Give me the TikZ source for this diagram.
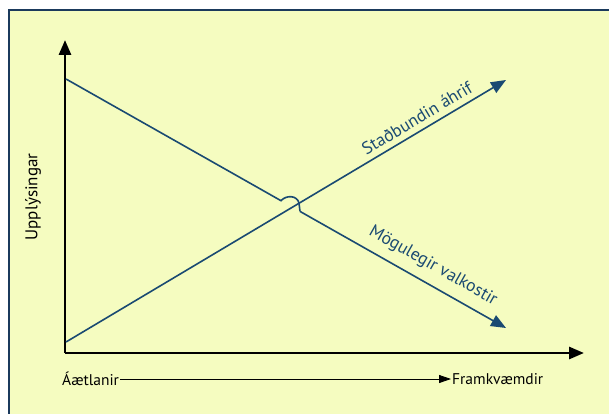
\documentclass[tikz,border=0pt]{standalone}
\usepackage{fontspec}
\setmainfont{PT Sans}
\usetikzlibrary{arrows.meta}
\definecolor{bgyel}{HTML}{F5FCC0}
\definecolor{frame}{HTML}{1B3A5C}
\definecolor{lineblue}{HTML}{1A4A72}
\tikzset{
  axis/.style={line width=2.8pt, -{Triangle[length=15pt,width=12pt]}},
  trend/.style={draw=lineblue, line width=1.6pt},
  trendtip/.style={-{Triangle[length=15pt,width=12pt]}, lineblue},
  lbl/.style={font=\fontsize{17.5}{20}\selectfont, text=lineblue, inner sep=1pt},
  axlbl/.style={font=\fontsize{15.5}{18}\selectfont, text=black, inner sep=1pt},
}
\begin{document}
\begin{tikzpicture}[x=1pt,y=-1pt]
\useasboundingbox (0,0) rectangle (609,414);
\fill[white] (0,0) rectangle (609,414);
\draw[fill=bgyel, draw=frame, line width=1.8pt] (9,10) rectangle (625,430);
% axes
\coordinate (O) at (65,353);
\coordinate (Ytop) at (65,40);
\coordinate (Xend) at (584,353);
\draw[axis] (O) -- (Ytop);
\draw[axis] (O) -- (Xend);
% trend lines
\coordinate (D1) at (66,79);
\coordinate (D2) at (506,328);
\coordinate (U1) at (66,342);
\coordinate (U2) at (506,80);
\coordinate (H1) at (281,200.7);
\coordinate (H2) at (300,211.4);
\draw[trend, trendtip] (U1) -- (U2);
\draw[trend] (D1) -- (H1) .. controls (286,195) and (297,195) .. (299,203) -- (H2);
\draw[trend, trendtip] (H2) -- (D2);
% labels
\node[lbl, rotate=30.8] (sa) at (417,118) {Staðbundin áhrif};
\node[lbl, rotate=-29.5] (mv) at (433,266) {Mögulegir valkostir};
\node[axlbl, rotate=90, font=\fontsize{17}{20}\selectfont] (up) at (33,197) {Upplýsingar};
\node[axlbl, anchor=west] (ae) at (61,379) {Áætlanir};
\node[axlbl, anchor=west] (fr) at (451,379) {Framkvæmdir};
\draw[line width=0.8pt, -{Triangle[length=12pt,width=8pt]}] (ae.east) -- (fr.west);
\end{tikzpicture}
\end{document}
